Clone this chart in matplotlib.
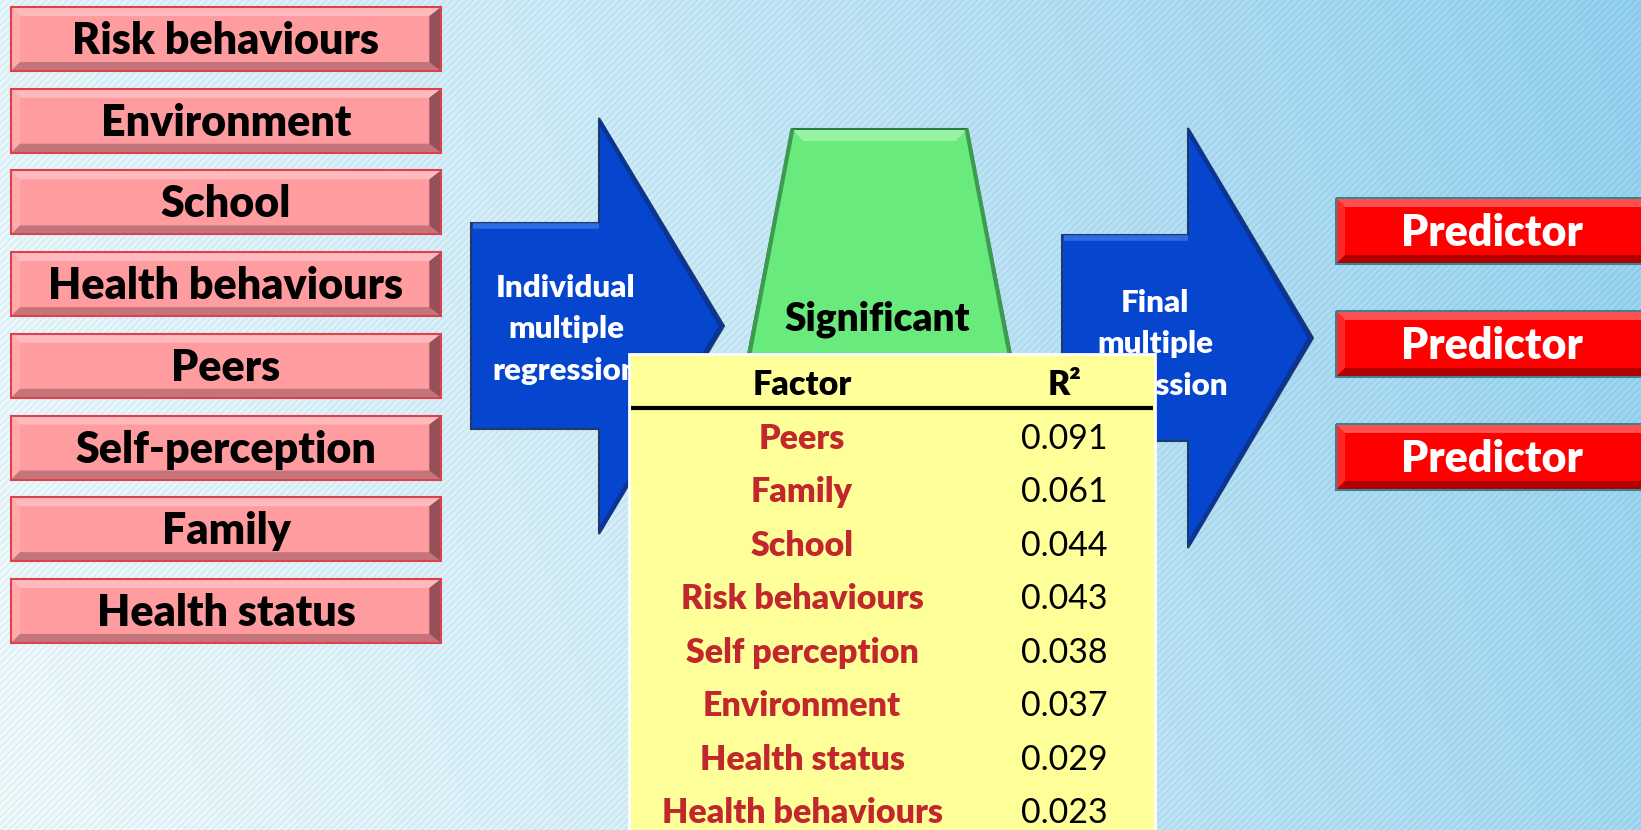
import numpy as np
import matplotlib
matplotlib.use('Agg')
import matplotlib.pyplot as plt
from matplotlib.patches import Polygon, Rectangle

W, H = 1641, 830

input_factors = ["Risk behaviours", "Environment", "School", "Health behaviours",
                 "Peers", "Self-perception", "Family", "Health status"]
table_headers = ["Factor", "R\u00b2"]
table_factors = ["Peers", "Family", "School", "Risk behaviours",
                 "Self perception", "Environment", "Health status", "Health behaviours"]
r_squared = [0.091, 0.061, 0.044, 0.043, 0.038, 0.037, 0.029, 0.023]
step1_label = ["Individual", "multiple", "regression"]
step2_label = ["Final", "multiple", "regression"]
middle_label = "Significant"
predictors = ["Predictor", "Predictor", "Predictor"]

plt.rcParams['font.family'] = ['Lato', 'DejaVu Sans']
BOLD = 'heavy'

fig = plt.figure(figsize=(W / 100, H / 100), dpi=100)
ax = fig.add_axes([0, 0, 1, 1])

# striped gradient background
yy, xx = np.mgrid[0:H, 0:W]
t = np.clip(0.85 * xx / W + 0.15 * (1 - yy / H), 0, 1) ** 1.2
c0 = np.array([0.90, 0.95, 0.96])
c1 = np.array([0.55, 0.79, 0.91])
bg = c0 * (1 - t[..., None]) + c1 * t[..., None]
stripe = ((xx + yy) % 7) < 3
bg = np.clip(bg + stripe[..., None] * 0.04, 0, 1)
ax.imshow(bg, extent=[0, W, H, 0], interpolation='nearest', aspect='auto', zorder=0)
ax.set_xlim(0, W)
ax.set_ylim(H, 0)
ax.axis('off')


def bevel_box(x0, y0, x1, y1, face, light, bottom, right, edge, bw=9, z=2):
    ax.add_patch(Rectangle((x0, y0), x1 - x0, y1 - y0, facecolor=face, edgecolor='none', zorder=z))
    ax.add_patch(Polygon([(x0, y0), (x1, y0), (x1 - bw, y0 + bw), (x0 + bw, y0 + bw)],
                         facecolor=light, edgecolor='none', zorder=z))
    ax.add_patch(Polygon([(x0, y0), (x0 + bw, y0 + bw), (x0 + bw, y1 - bw), (x0, y1)],
                         facecolor=light, alpha=0.5, edgecolor='none', zorder=z))
    ax.add_patch(Polygon([(x0, y1), (x1, y1), (x1 - bw, y1 - bw), (x0 + bw, y1 - bw)],
                         facecolor=bottom, edgecolor='none', zorder=z))
    ax.add_patch(Polygon([(x1, y0), (x1 - bw * 1.3, y0 + bw), (x1 - bw * 1.3, y1 - bw), (x1, y1)],
                         facecolor=right, edgecolor='none', zorder=z))
    ax.add_patch(Rectangle((x0, y0), x1 - x0, y1 - y0, facecolor='none', edgecolor=edge,
                           lw=1.5, zorder=z))


# left column of factor boxes
for i, name in enumerate(input_factors):
    y0 = 7 + i * 81.7
    bevel_box(11, y0, 441, y0 + 64, '#FF9CA0', '#FFBABD', '#C4757B', '#96505A', '#E0404C')
    ax.text(226, y0 + 47, name, ha='center', va='baseline', fontsize=31,
            fontweight=BOLD, color='black', zorder=5)


def block_arrow(xl, yt, yb, xn, ht, hb, xt, yc):
    pts = [(xl, yt), (xn, yt), (xn, ht), (xt, yc), (xn, hb), (xn, yb), (xl, yb)]
    ax.add_patch(Polygon(pts, closed=True, facecolor='#0646CF', edgecolor='#1F3A66',
                         lw=1.5, zorder=4))
    ax.plot([xl + 2, xn], [yt + 3, yt + 3], color='#2E6CE4', lw=4, zorder=4,
            solid_capstyle='butt')
    ax.plot([xn + 2, xt - 3, xn + 2], [ht + 6, yc, hb - 6], color='#0A3498', lw=3, zorder=4)


block_arrow(471, 223, 429, 599, 118, 534, 724, 326)
block_arrow(1062, 235, 441, 1188, 128, 548, 1313, 338)

# green trapezoid
ax.add_patch(Polygon([(792, 129), (967, 129), (1049, 550), (710, 550)], closed=True,
                     facecolor='#68EA7C', edgecolor='#2E7A3E', lw=1.5, zorder=4))
ax.add_patch(Polygon([(793, 130), (966, 130), (956, 141), (803, 141)], closed=True,
                     facecolor='#94F4A4', edgecolor='none', zorder=4))
ax.plot([792, 712], [131, 550], color='#3E9A50', lw=3, zorder=4)
ax.plot([967, 1047], [131, 550], color='#3E9A50', lw=3, zorder=4)
ax.text(877, 330, middle_label, ha='center', va='baseline', fontsize=28,
        fontweight=BOLD, color='black', zorder=5)

for i, line in enumerate(step1_label):
    ax.text(566, 297 + i * 41.3, line, ha='center', va='baseline', fontsize=22.5,
            fontweight=BOLD, color='white', zorder=5)
for i, line in enumerate(step2_label):
    ax.text(1155, 312 + i * 41.3, line, ha='center', va='baseline', fontsize=22.5,
            fontweight=BOLD, color='white', zorder=5)

# predictor boxes
for i, name in enumerate(predictors):
    y0 = 198 + i * 113
    bevel_box(1336, y0, 1680, y0 + 66, '#FF0000', '#FF5050', '#B00000', '#C80000', '#3E8290')
    ax.text(1492, y0 + 48, name, ha='center', va='baseline', fontsize=31,
            fontweight=BOLD, color='white', zorder=5)

# table of R squared values
ax.add_patch(Rectangle((629, 354), 526, 520, facecolor='#FFFF99', edgecolor='white',
                       lw=2, zorder=6))
ax.plot([631, 1153], [408, 408], color='black', lw=3, solid_capstyle='butt', zorder=7)
ax.text(802, 395, table_headers[0], ha='center', va='baseline', fontsize=24.5,
        fontweight=BOLD, color='black', zorder=7)
ax.text(1064, 395, table_headers[1], ha='center', va='baseline', fontsize=24.5,
        fontweight=BOLD, color='black', zorder=7)
for i, (name, val) in enumerate(zip(table_factors, r_squared)):
    yb = 448.5 + i * 53.5
    ax.text(802, yb, name, ha='center', va='baseline', fontsize=24.5,
            fontweight=BOLD, color='#C1272D', zorder=7)
    ax.text(1064, yb, f"{val:.3f}", ha='center', va='baseline', fontsize=24.5,
            color='black', zorder=7)

fig.savefig('out.png', dpi=100)
